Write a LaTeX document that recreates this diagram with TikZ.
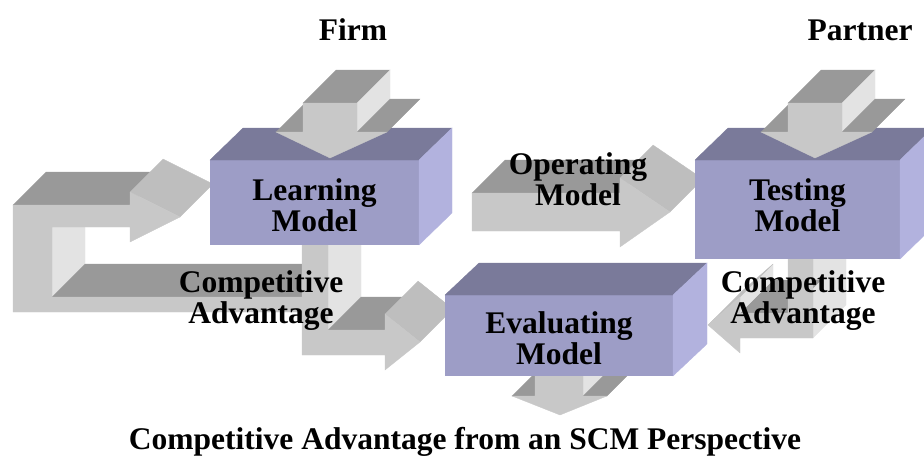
\documentclass[tikz,border=0pt]{standalone}
\usepackage{fontspec}
\setmainfont{Liberation Serif}
\definecolor{arrowgray}{RGB}{200,200,200}
\definecolor{arrowdark}{RGB}{153,153,153}
\definecolor{arrowlight}{RGB}{227,227,227}
\definecolor{arrowslant}{RGB}{190,190,190}
\definecolor{modelpurple}{RGB}{157,157,198}
\definecolor{modeldark}{RGB}{122,122,154}
\definecolor{modellight}{RGB}{178,178,222}

\begin{document}
\begin{tikzpicture}[x=1pt, y=-1pt,
    armfront/.style={fill=arrowgray, draw=arrowgray, line width=0.3pt},
    armtop/.style={fill=arrowdark, draw=arrowdark, line width=0.3pt},
    armside/.style={fill=arrowlight, draw=arrowlight, line width=0.3pt},
    armslant/.style={fill=arrowslant, draw=arrowslant, line width=0.3pt},
    modelfront/.style={fill=modelpurple, inner sep=0pt, outer sep=0pt},
    modeltop/.style={fill=modeldark, draw=modeldark, line width=0.3pt},
    modelside/.style={fill=modellight, draw=modellight, line width=0.3pt},
    modeltext/.style={font=\fontsize{31.5}{31}\selectfont\bfseries, align=center, inner sep=0pt}]
    \useasboundingbox (0,0) rectangle (924,464);
    \clip (0,0) rectangle (924,464);

    % feedback loop back into the learning model
    \path[armside] (52,227) -- (85,194) -- (85,264) -- (52,297) -- cycle;
    \path[armtop] (13,205) -- (130,205) -- (163,172) -- (46,172) -- cycle;
    \path[armtop] (52,297) -- (302,297) -- (335,264) -- (85,264) -- cycle;
    \path[armslant] (130,192) -- (180,217) -- (213,184) -- (163,159) -- cycle;
    \path[armfront] (13,205) -- (130,205) -- (130,192) -- (180,217) -- (130,242) -- (130,227)
        -- (52,227) -- (52,297) -- (302,297) -- (302,312) -- (13,312) -- cycle;

    % learning -> evaluating
    \path[armside] (328,212) -- (361,179) -- (361,297) -- (328,330) -- cycle;
    \path[armtop] (328,330) -- (385,330) -- (418,297) -- (361,297) -- cycle;
    \path[armslant] (385,314) -- (420,342) -- (453,309) -- (418,281) -- cycle;
    \path[armfront] (302,240) -- (328,240) -- (328,330) -- (385,330) -- (385,314) -- (420,342)
        -- (385,370) -- (385,355) -- (302,355) -- cycle;

    % operating model -> testing
    \path[armtop] (472,193) -- (620,193) -- (653,160) -- (505,160) -- cycle;
    \path[armslant] (620,178) -- (670,212) -- (703,179) -- (653,145) -- cycle;
    \path[armfront] (472,193) -- (620,193) -- (620,178) -- (670,212) -- (620,247) -- (620,231)
        -- (472,231) -- cycle;

    % testing -> evaluating
    \path[armside] (813,226) -- (846,193) -- (846,305) -- (813,338) -- cycle;
    \path[armtop] (740,313) -- (788,313) -- (821,280) -- (773,280) -- cycle;
    \path[armside] (740,297) -- (773,264) -- (773,280) -- (740,313) -- cycle;
    \path[armslant] (708,325) -- (740,297) -- (773,264) -- (741,292) -- cycle;
    \path[armfront] (788,255) -- (813,255) -- (813,338) -- (740,338) -- (740,353) -- (708,325)
        -- (740,297) -- (740,313) -- (788,313) -- cycle;

    % out of the evaluating model
    \path[armside] (583,370) -- (616,337) -- (616,363) -- (583,396) -- cycle;
    \path[armtop] (512,396) -- (535,396) -- (568,363) -- (545,363) -- cycle;
    \path[armtop] (583,396) -- (607,396) -- (640,363) -- (616,363) -- cycle;
    \path[armfront] (535,370) -- (583,370) -- (583,396) -- (607,396) -- (560,415) -- (512,396)
        -- (535,396) -- cycle;

    % the three models
    \node[modelfront, minimum width=209pt, minimum height=85pt] (learning) at (314.5,202.5) {};
    \path[modeltop] (learning.north west) -- ++(33,-32) -- ++(209,0) -- (learning.north east) -- cycle;
    \path[modelside] (learning.north east) -- ++(33,-32) -- ++(0,85) -- (learning.south east) -- cycle;

    \node[modelfront, minimum width=205pt, minimum height=99pt] (testing) at (797.5,209.5) {};
    \path[modeltop] (testing.north west) -- ++(33,-32) -- ++(205,0) -- (testing.north east) -- cycle;
    \path[modelside] (testing.north east) -- ++(33,-32) -- ++(0,99) -- (testing.south east) -- cycle;

    \node[modelfront, minimum width=228pt, minimum height=81pt] (evaluating) at (559,335.5) {};
    \path[modeltop] (evaluating.north west) -- ++(34,-32) -- ++(228,0) -- (evaluating.north east) -- cycle;
    \path[modelside] (evaluating.north east) -- ++(34,-32) -- ++(0,81) -- (evaluating.south east) -- cycle;

    % firm -> learning
    \path[armtop] (303,103) -- (357,103) -- (390,70) -- (336,70) -- cycle;
    \path[armside] (357,103) -- (390,70) -- (390,99) -- (357,132) -- cycle;
    \path[armtop] (276,132) -- (303,132) -- (336,99) -- (309,99) -- cycle;
    \path[armtop] (357,132) -- (387,132) -- (420,99) -- (390,99) -- cycle;
    \path[armfront] (303,103) -- (357,103) -- (357,132) -- (387,132) -- (330,158) -- (276,132)
        -- (303,132) -- cycle;

    % partner -> testing
    \path[armtop] (788,103) -- (842,103) -- (875,70) -- (821,70) -- cycle;
    \path[armside] (842,103) -- (875,70) -- (875,99) -- (842,132) -- cycle;
    \path[armtop] (761,132) -- (788,132) -- (821,99) -- (794,99) -- cycle;
    \path[armtop] (842,132) -- (872,132) -- (905,99) -- (875,99) -- cycle;
    \path[armfront] (788,103) -- (842,103) -- (842,132) -- (872,132) -- (815,158) -- (761,132)
        -- (788,132) -- cycle;

    % texts
    \node[modeltext] (learning text) at (314.5,205) {Learning\\Model};
    \node[modeltext] (testing text) at (797.5,205) {Testing\\Model};
    \node[modeltext] (evaluating text) at (559,338) {Evaluating\\Model};
    \node[modeltext] (operating text) at (578,179) {Operating\\Model};
    \node[modeltext] (advantage left) at (261,301) {Competitive\\Advantage};
    \node[modeltext] (advantage right) at (803,301) {Competitive\\Advantage};
    \node[modeltext, anchor=base] (firm) at (353,40) {Firm};
    \node[modeltext, anchor=base] (partner) at (860,40) {Partner};
    \node[modeltext, anchor=base] (title) at (465,449) {Competitive Advantage from an SCM Perspective};
\end{tikzpicture}
\end{document}
